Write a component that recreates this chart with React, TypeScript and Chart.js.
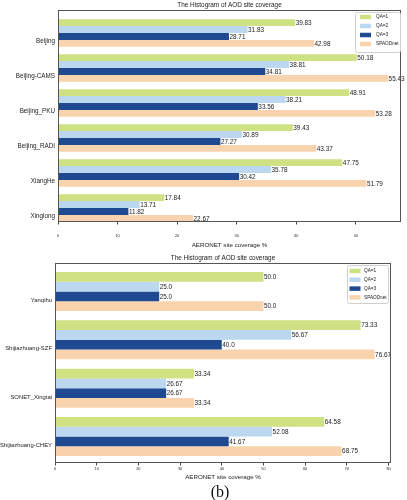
import React, { useEffect, useRef } from 'react';
import { Chart, registerables } from 'chart.js';

Chart.register(...registerables);

const FONT = '"Liberation Sans", Arial, sans-serif';

// ---------- data ----------
const seriesNames = ['QA=1', 'QA=2', 'QA=3', 'SPAODnet'];
const seriesColors = ['#cee183', '#bcd8f1', '#1f4a92', '#f8d3ad'];

const topSites = ['Beijing', 'Beijing-CAMS', 'Beijing_PKU', 'Beijing_RADI', 'XiangHe', 'Xinglong'];
const topQA1 = [39.83, 50.18, 48.91, 39.43, 47.75, 17.84];
const topQA2 = [31.83, 38.81, 38.21, 30.89, 35.78, 13.71];
const topQA3 = [28.71, 34.81, 33.56, 27.27, 30.42, 11.82];
const topSPAOD = [42.98, 55.43, 53.28, 43.37, 51.79, 22.67];

const bottomSites = ['Yanqihu', 'Shijiazhuang-SZF', 'SONET_Xingtai', 'Shijiazhuang-CHEY'];
const bottomQA1 = [50.0, 73.33, 33.34, 64.58];
const bottomQA2 = [25.0, 56.67, 26.67, 52.08];
const bottomQA3 = [25.0, 40.0, 26.67, 41.67];
const bottomSPAOD = [50.0, 76.67, 33.34, 68.75];

const chartTitle = 'The Histogram of AOD site coverage';
const xAxisTitle = 'AERONET site coverage %';

function fmt(v: number): string {
  const s = String(v);
  return s.includes('.') ? s : s + '.0';
}

interface Cfg {
  labels: string[];
  series: number[][];
  xMax: number;
  canvasH: number;
  area: { left: number; top: number; right: number; bottom: number };
  catStart: number;
  catRange: number;
  catPct: number;
  tickPad: number;
  xTitlePad: number;
  labelOffset: number;
  labelSize: number;
  titleDy: number;
  legend: { rightInset: number; topInset: number; w: number; h: number; swX: number; swW: number; swH: number; textX: number; row0: number; gap: number };
}

function buildChart(canvas: HTMLCanvasElement, cfg: Cfg) {
  const frame = {
    id: 'frame',
    afterDraw(chart: any) {
      const { ctx, chartArea: a } = chart;
      ctx.save();
      ctx.strokeStyle = '#555';
      ctx.lineWidth = 1;
      ctx.strokeRect(Math.round(a.left) + 0.5, Math.round(a.top) + 0.5, Math.round(a.right - a.left) - 1, Math.round(a.bottom - a.top) - 1);
      ctx.restore();
    },
  };
  const values = {
    id: 'values',
    afterDatasetsDraw(chart: any) {
      const { ctx } = chart;
      ctx.save();
      ctx.font = `6.4px ${FONT}`;
      ctx.fillStyle = '#222';
      ctx.textAlign = 'left';
      ctx.textBaseline = 'middle';
      chart.data.datasets.forEach((ds: any, i: number) => {
        const meta = chart.getDatasetMeta(i);
        meta.data.forEach((el: any, j: number) => {
          ctx.fillText(fmt(ds.data[j]), el.x + 0.5, el.y + 0.5);
        });
      });
      ctx.restore();
    },
  };
  const title = {
    id: 'ctitle',
    afterDraw(chart: any) {
      const { ctx, chartArea: a } = chart;
      ctx.save();
      ctx.font = `6.4px ${FONT}`;
      ctx.fillStyle = '#222';
      ctx.textAlign = 'center';
      ctx.textBaseline = 'middle';
      ctx.fillText(chartTitle, (a.left + a.right) / 2, a.top + cfg.titleDy);
      ctx.restore();
    },
  };
  const legend = {
    id: 'clegend',
    afterDraw(chart: any) {
      const { ctx, chartArea: a } = chart;
      const L = cfg.legend;
      const bx = a.right - L.rightInset - L.w;
      const by = a.top + L.topInset;
      ctx.save();
      ctx.fillStyle = 'rgba(255,255,255,0.9)';
      ctx.strokeStyle = '#cfcfcf';
      ctx.lineWidth = 1;
      ctx.beginPath();
      (ctx as any).roundRect(Math.round(bx) + 0.5, Math.round(by) + 0.5, L.w, L.h, 2);
      ctx.fill();
      ctx.stroke();
      ctx.font = `4.7px ${FONT}`;
      ctx.textAlign = 'left';
      ctx.textBaseline = 'middle';
      seriesNames.forEach((n, i) => {
        const ry = by + L.row0 + i * L.gap;
        ctx.fillStyle = seriesColors[i];
        ctx.fillRect(bx + L.swX, ry - L.swH / 2, L.swW, L.swH);
        ctx.fillStyle = '#222';
        ctx.fillText(n, bx + L.textX, ry);
      });
      ctx.restore();
    },
  };

  return new Chart(canvas, {
    type: 'bar',
    data: {
      labels: cfg.labels,
      datasets: cfg.series.map((d, i) => ({
        label: seriesNames[i],
        data: d,
        backgroundColor: seriesColors[i],
        borderWidth: 0,
        barPercentage: 1,
        categoryPercentage: cfg.catPct,
      })),
    },
    options: {
      indexAxis: 'y',
      responsive: false,
      animation: false,
      devicePixelRatio: 1,
      layout: { padding: { top: cfg.area.top, right: 407 - cfg.area.right, left: 0, bottom: 0 } },
      plugins: { legend: { display: false }, tooltip: { enabled: false }, title: { display: false } },
      scales: {
        x: {
          type: 'linear',
          min: 0,
          max: cfg.xMax,
          afterFit: (s: any) => {
            s.height = cfg.canvasH - cfg.area.bottom;
          },
          ticks: {
            stepSize: 10,
            includeBounds: false,
            font: { family: FONT, size: 3.8 },
            color: '#222',
            padding: cfg.tickPad,
            maxRotation: 0,
            autoSkip: false,
          },
          grid: { drawOnChartArea: false, drawTicks: true, tickLength: 2.5, color: '#444' },
          border: { display: false },
          title: {
            display: true,
            text: xAxisTitle,
            font: { family: FONT, size: 6.2 },
            color: '#222',
            padding: { top: 0, bottom: cfg.xTitlePad },
          },
        },
        y: {
          type: 'category',
          afterFit: (s: any) => {
            s.width = cfg.area.left;
          },
          afterBuildTicks: (s: any) => {
            // matplotlib-like asymmetric margins around the categories
            s._startValue = -cfg.catStart;
            s._valueRange = cfg.catRange;
          },
          ticks: {
            font: { family: FONT, size: cfg.labelSize },
            color: '#222',
            padding: 3,
            labelOffset: cfg.labelOffset,
            autoSkip: false,
          },
          grid: { display: false, drawTicks: false, tickLength: 0 },
          border: { display: false },
        },
      },
    } as any,
    plugins: [frame, values, title, legend],
  });
}

function ChartBox({ cfg, top }: { cfg: Cfg; top: number }) {
  const ref = useRef<HTMLCanvasElement | null>(null);
  useEffect(() => {
    if (!ref.current) return;
    const c = buildChart(ref.current, cfg);
    return () => c.destroy();
  }, []);
  return (
    <div style={{ position: 'absolute', left: 0, top, width: 407, height: cfg.canvasH }}>
      <canvas ref={ref} width={407} height={cfg.canvasH} style={{ display: 'block', width: 407, height: cfg.canvasH }} />
    </div>
  );
}

const topCfg: Cfg = {
  labels: topSites,
  series: [topQA1, topQA2, topQA3, topSPAOD],
  xMax: 57.6,
  canvasH: 252,
  area: { left: 58, top: 10, right: 401, bottom: 222 },
  catStart: 0.657,
  catRange: 6.057,
  catPct: 0.79,
  tickPad: 9,
  xTitlePad: 3.3,
  labelOffset: 8.7,
  labelSize: 6.3,
  titleDy: -5,
  legend: { rightInset: 1, topInset: 2, w: 45, h: 40, swX: 5, swW: 11, swH: 4.5, textX: 21, row0: 5, gap: 9 },
};

const bottomCfg: Cfg = {
  labels: bottomSites,
  series: [bottomQA1, bottomQA2, bottomQA3, bottomSPAOD],
  xMax: 80.6,
  canvasH: 232,
  area: { left: 55, top: 13, right: 391, bottom: 213 },
  catStart: 0.59,
  catRange: 4.138,
  catPct: 0.807,
  tickPad: 1,
  xTitlePad: 1.3,
  labelOffset: 9,
  labelSize: 5.9,
  titleDy: -5,
  legend: { rightInset: 3, topInset: 2, w: 41, h: 38, swX: 2.5, swW: 11, swH: 4.5, textX: 17, row0: 6, gap: 8.8 },
};

export default function App() {
  return (
    <div style={{ position: 'absolute', left: 0, top: 0, width: 407, height: 500, background: '#fff', overflow: 'hidden' }}>
      <ChartBox cfg={topCfg} top={0} />
      <ChartBox cfg={bottomCfg} top={250} />
      <div
        style={{
          position: 'absolute',
          left: 180,
          top: 482,
          width: 80,
          height: 20,
          lineHeight: '20px',
          textAlign: 'center',
          fontFamily: '"Liberation Serif", "Times New Roman", serif',
          fontSize: 16,
          color: '#111',
        }}
      >
        (b)
      </div>
    </div>
  );
}
